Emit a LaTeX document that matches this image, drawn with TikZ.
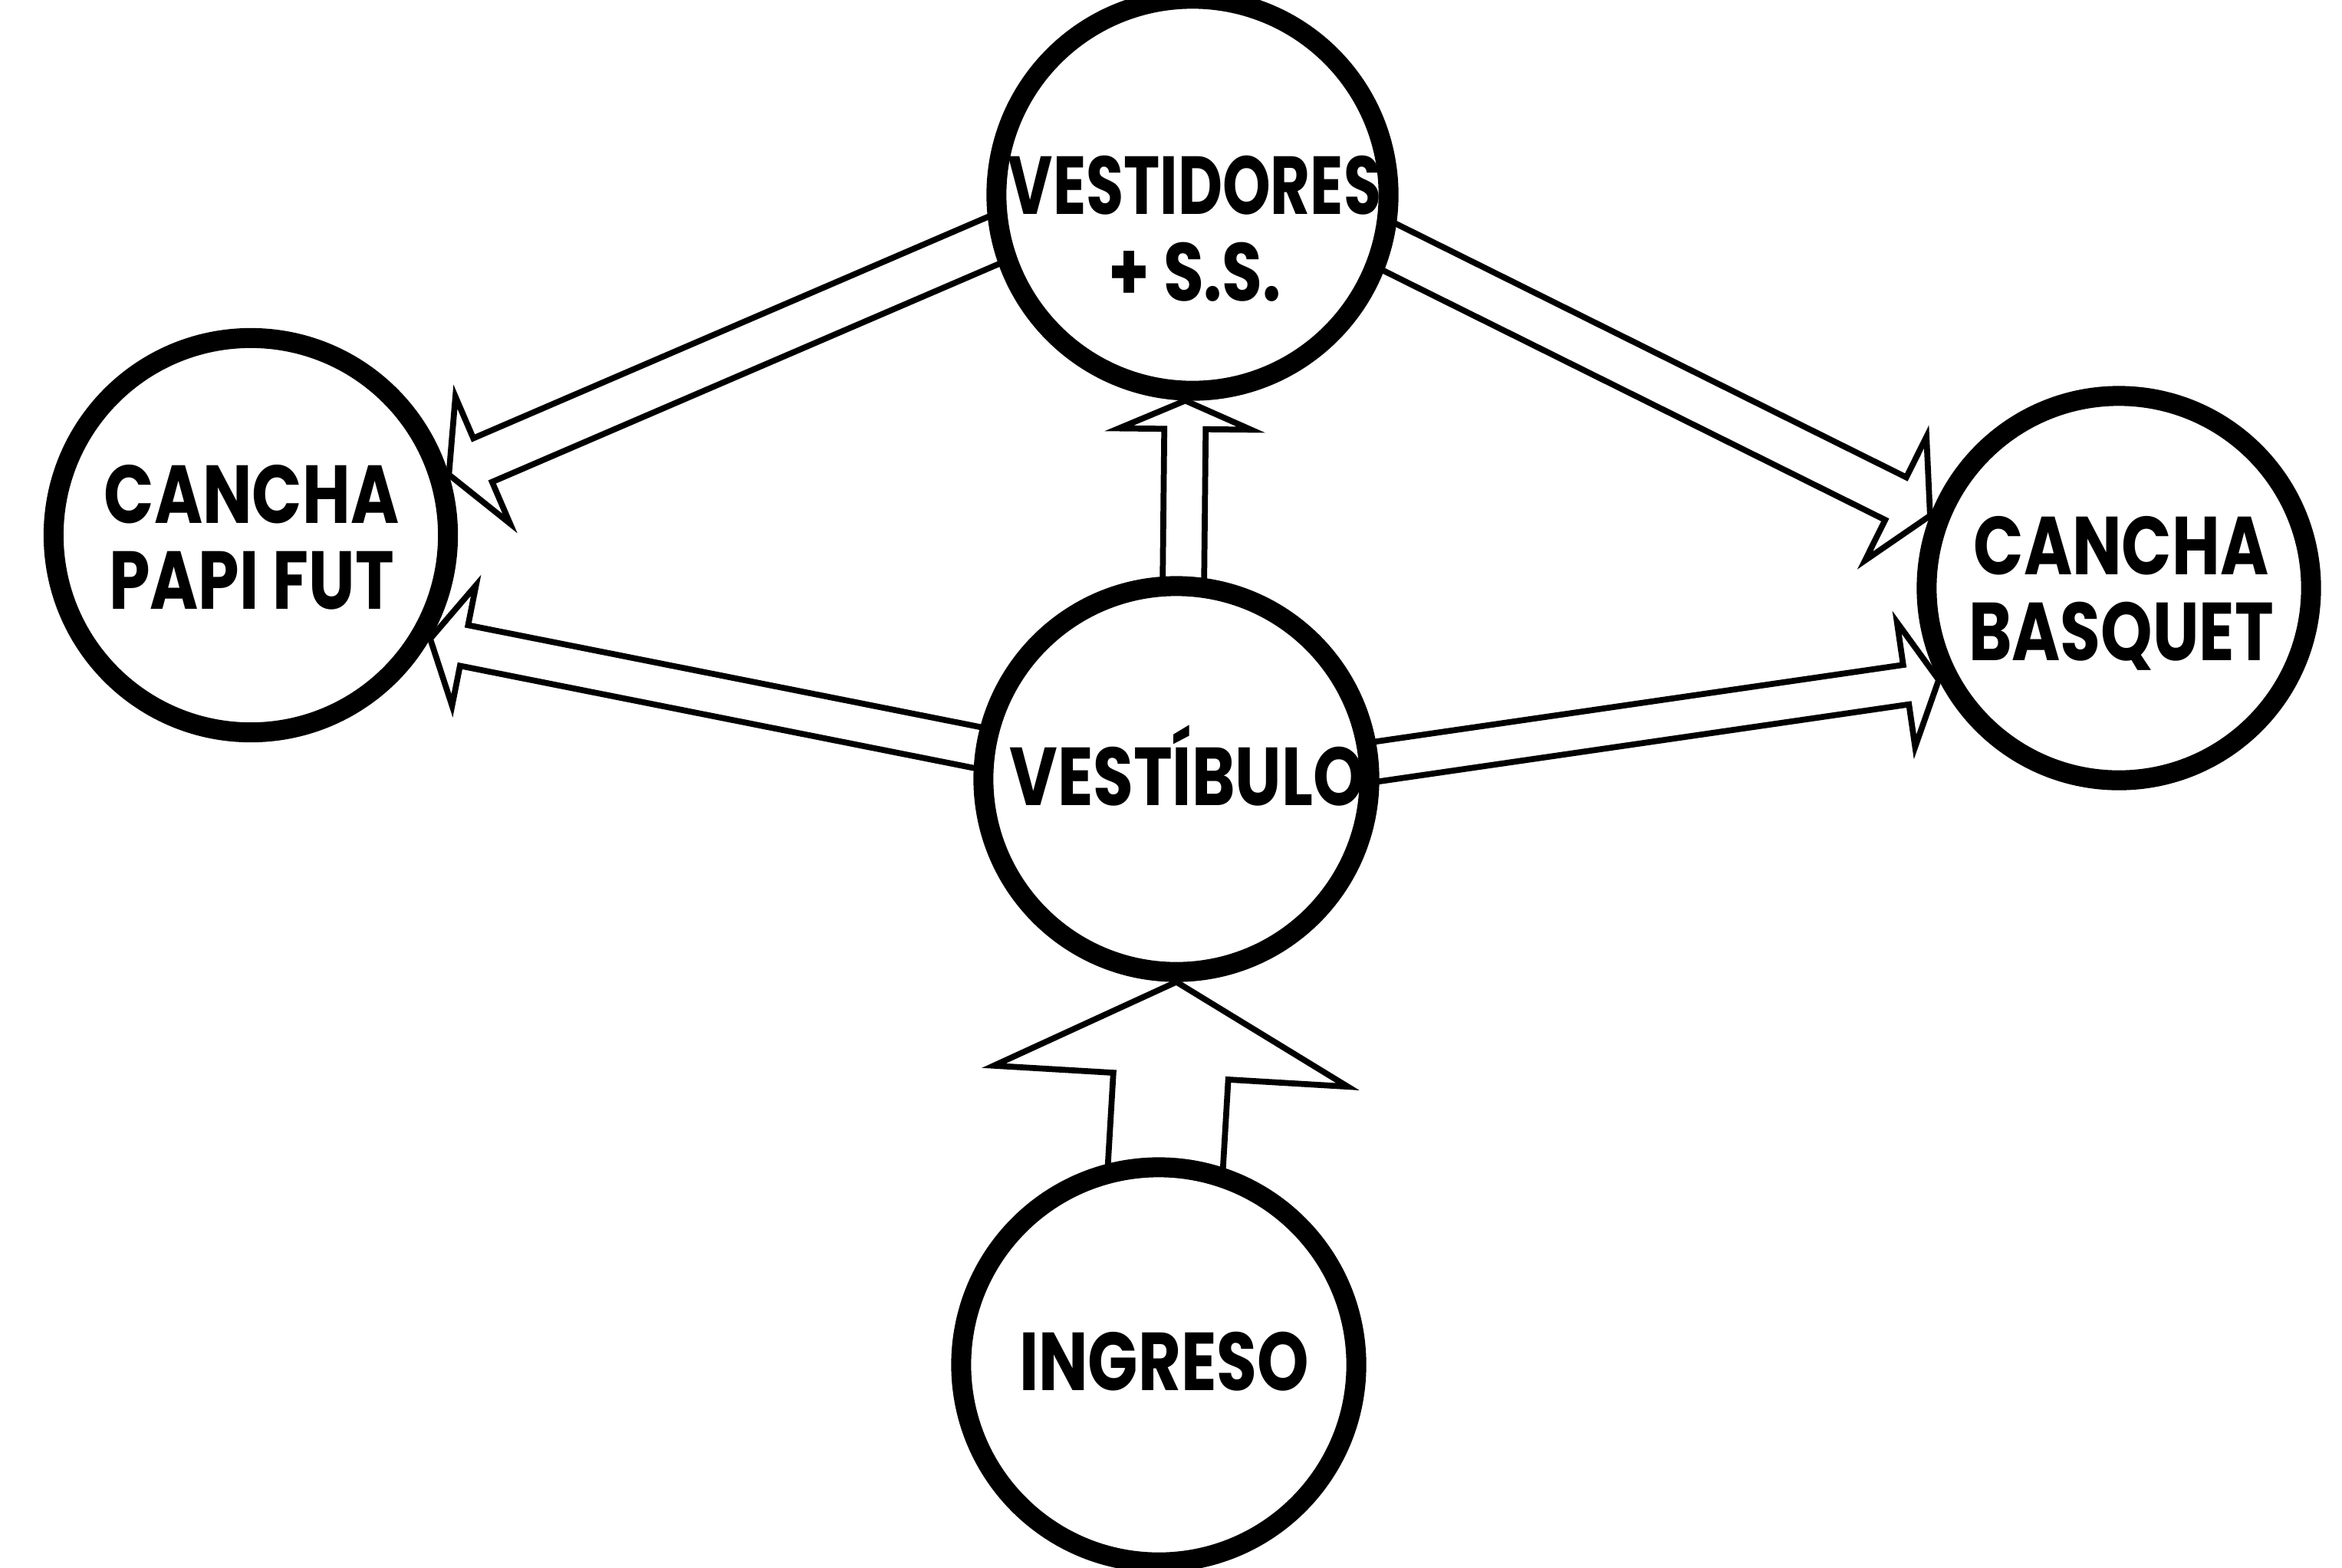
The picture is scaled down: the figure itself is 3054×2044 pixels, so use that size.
\documentclass[tikz,border=0pt]{standalone}
\usepackage{graphicx}
\usepackage{fontspec}
\setmainfont{Poppins}[FakeStretch=0.8]
\usetikzlibrary{calc}
\pgfdeclarelayer{bg}
\pgfsetlayers{bg,main}
\tikzset{
  room/.style={circle, draw=black, line width=0.26cm, fill=white, inner sep=0pt},
  roomtext/.style={font=\bfseries\fontsize{30.5}{32}\selectfont, align=center, inner sep=0pt},
  arrowline/.style={draw=black, line width=2.2pt, line join=miter}
}
% #1 start coordinate, #2 tip coordinate, #3 shaft half width, #4 head half width, #5 head length
\newcommand{\hollowarrow}[5]{%
  \coordinate (#1c) at ($(#2)!#5!(#1)$);
  \draw[arrowline]
    ($(#1)!#3!90:(#2)$) -- ($(#1c)!#3!-90:(#1)$) -- ($(#1c)!#4!-90:(#1)$) -- (#2)
    -- ($(#1c)!#4!90:(#1)$) -- ($(#1c)!#3!90:(#1)$) -- ($(#1)!#3!-90:(#2)$);
}
\begin{document}
\begin{tikzpicture}[x=0.01cm, y=-0.01cm]
\useasboundingbox (0,0) rectangle (3054,2044);
% rooms
\node[room, minimum size=5.14cm] (papi) at (327,698) {};
\node[room, minimum size=5.11cm] (vtd) at (1555,254) {};
\node[room, minimum size=5.01cm] (bas) at (2763,767) {};
\node[room, minimum size=5.03cm] (vtb) at (1534,1016) {};
\node[room, minimum size=5.15cm] (ing) at (1511,1780) {};
% labels
\node[roomtext] (tpapi) at (328,701) {CANCHA\\PAPI FUT};
\node[roomtext] (tvtd) at (1558,298) {\scalebox{0.93}[1]{VESTIDORES}\\+ S.S.};
\node[roomtext] (tbas) at (2766,774) {CANCHA\\BASQUET};
\node[roomtext] (tvtb) at (1548,999) {VESTÍBULO};
\node[roomtext] (ting) at (1518,1776) {INGRESO};
% connectors (hollow block arrows), behind the rooms
\begin{pgfonlayer}{bg}
\coordinate (aA) at ($(vtd.193)!-0.3cm!(papi.17)$);
\coordinate (aAt) at (papi.17);
\hollowarrow{aA}{aAt}{0.31cm}{0.90cm}{0.48cm}
\coordinate (aB) at ($(vtb.171)!-0.3cm!(papi.330)$);
\coordinate (aBt) at (papi.330);
\hollowarrow{aB}{aBt}{0.27cm}{0.80cm}{0.45cm}
\coordinate (aC) at ($(vtd.345)!-0.3cm!(bas.159)$);
\coordinate (aCt) at (bas.159);
\hollowarrow{aC}{aCt}{0.31cm}{0.90cm}{0.50cm}
\coordinate (aD) at ($(vtb.5)!-0.3cm!(bas.207)$);
\coordinate (aDt) at (bas.207);
\hollowarrow{aD}{aDt}{0.26cm}{0.82cm}{0.43cm}
\coordinate (aE) at ($(vtb.88)!-0.3cm!(vtd.268.5)$);
\coordinate (aEt) at (vtd.268.5);
\hollowarrow{aE}{aEt}{0.27cm}{0.86cm}{0.37cm}
\coordinate (aF) at ($(ing.88)!-0.3cm!(vtb.270)$);
\coordinate (aFt) at (vtb.270);
\hollowarrow{aF}{aFt}{0.75cm}{2.31cm}{1.23cm}
\end{pgfonlayer}
\end{tikzpicture}
\end{document}
